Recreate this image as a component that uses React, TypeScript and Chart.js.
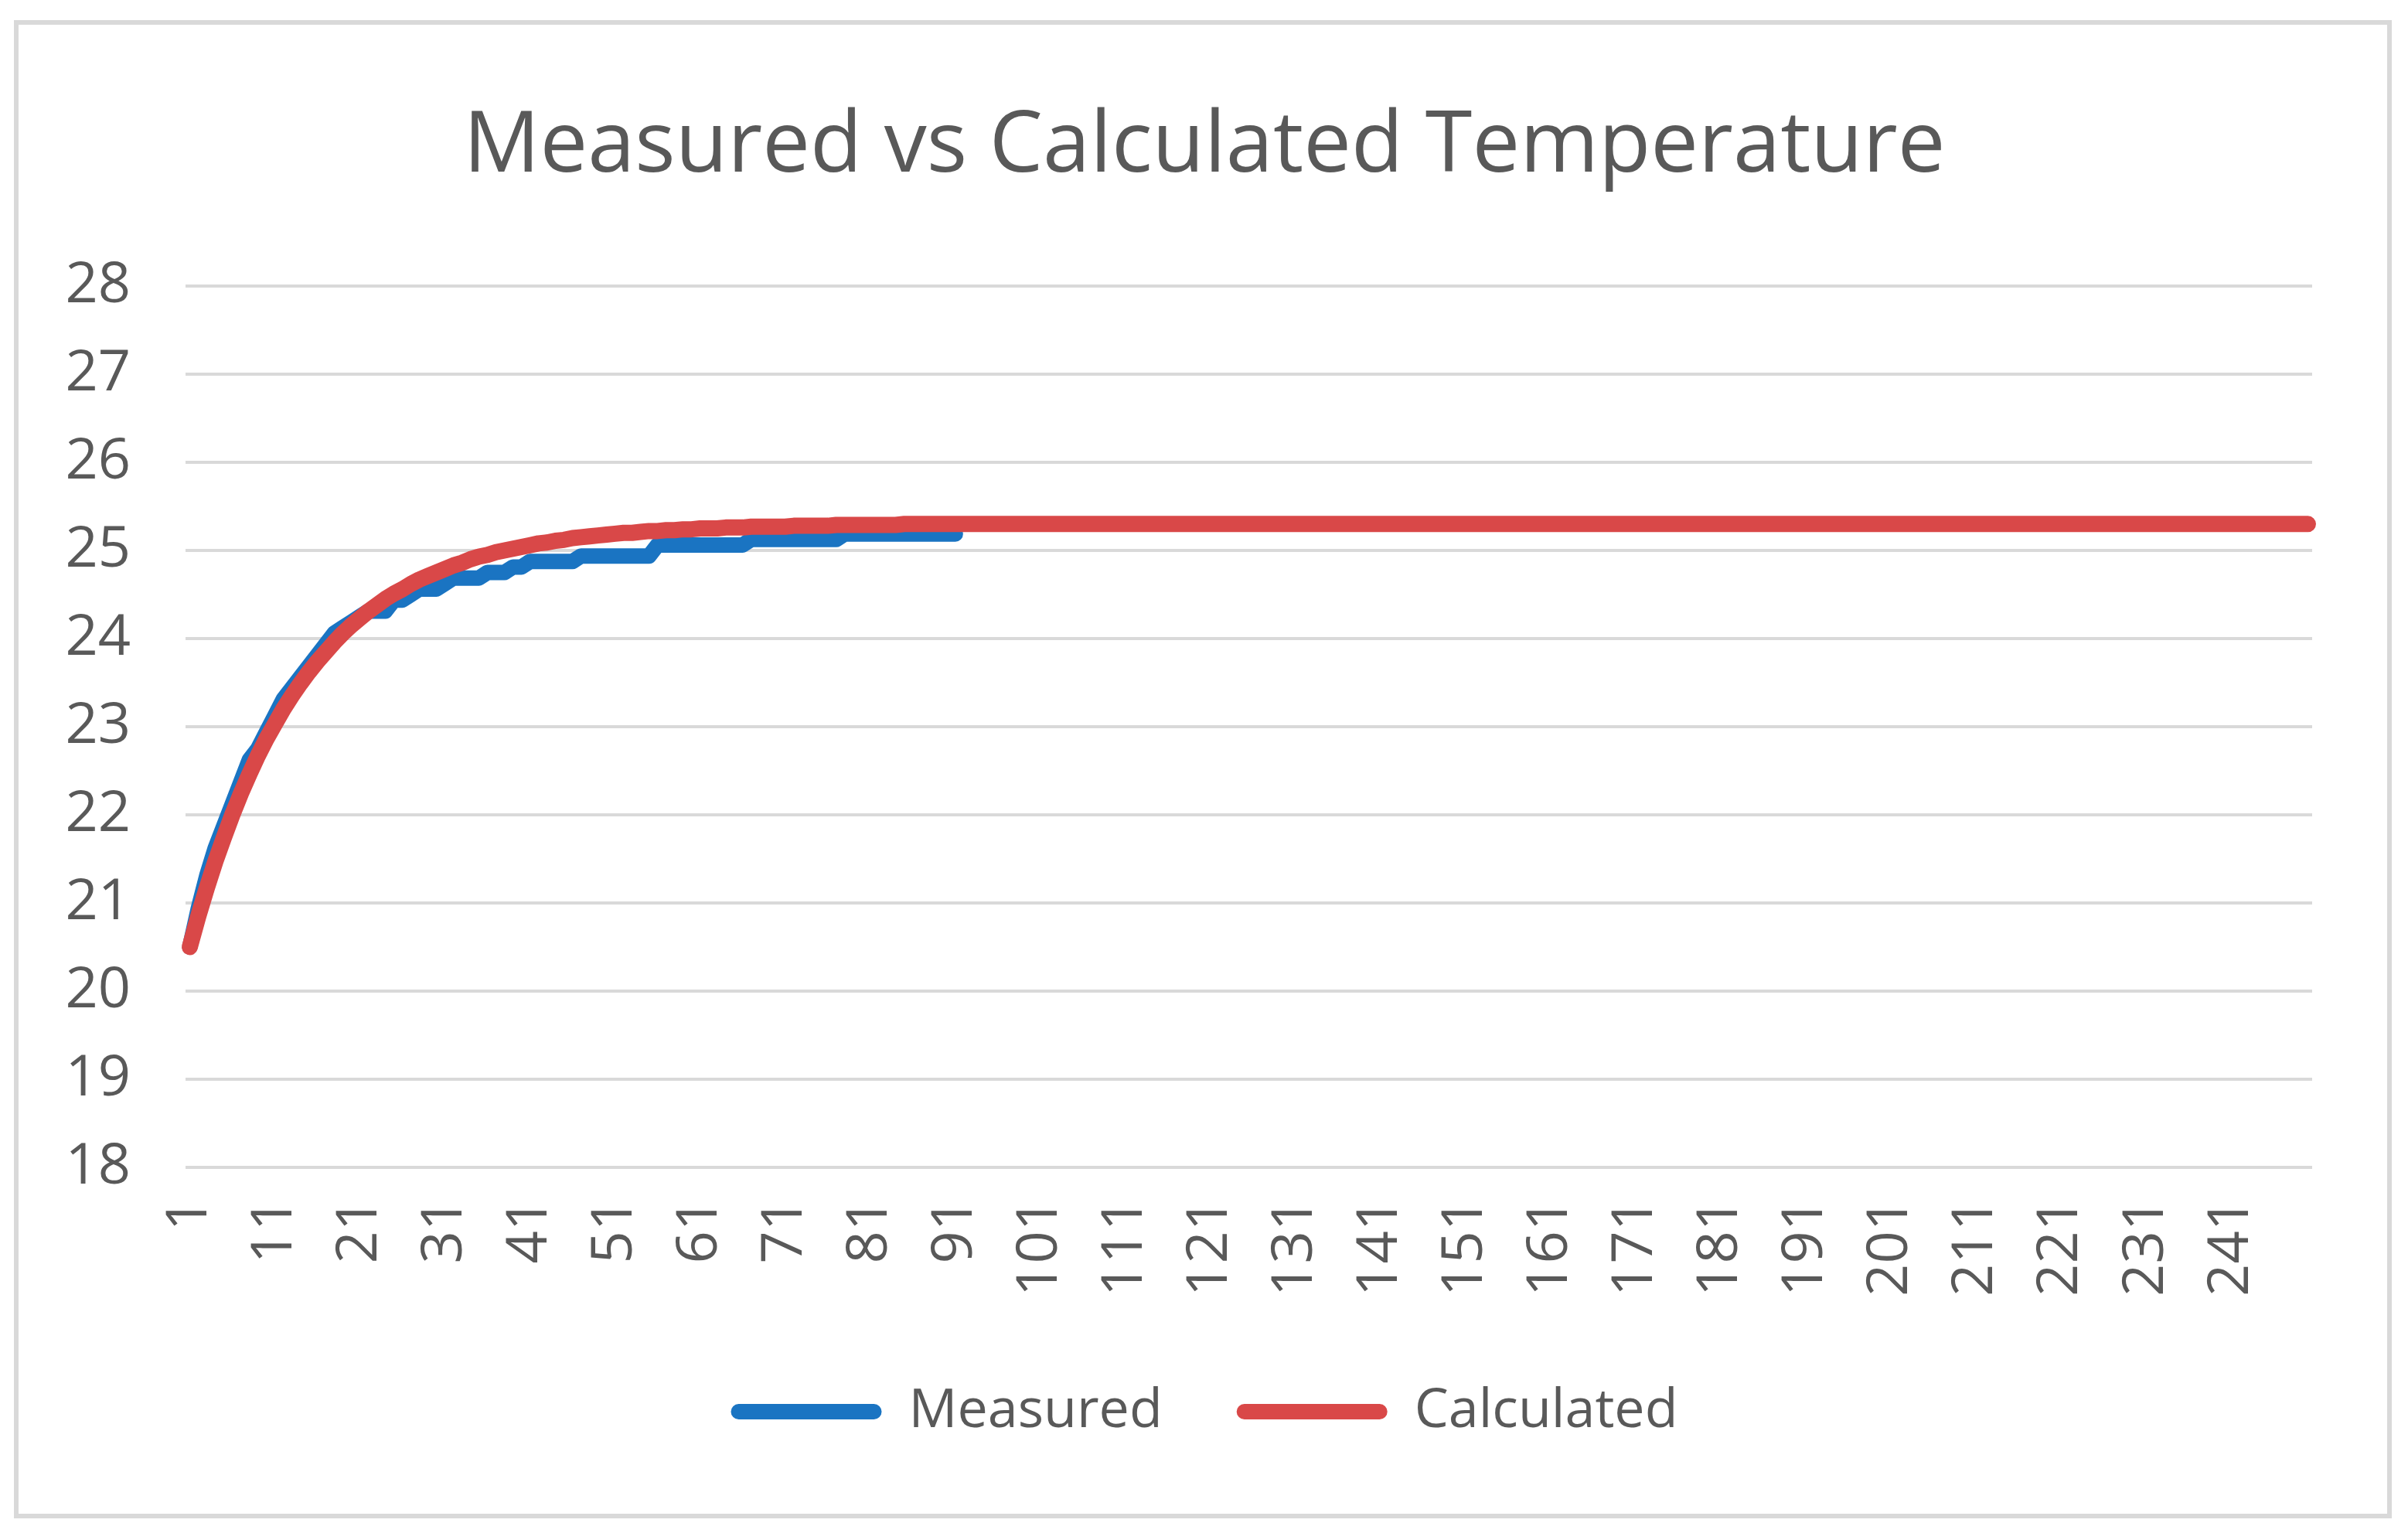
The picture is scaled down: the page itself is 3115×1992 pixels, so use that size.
import React, { useEffect, useRef } from "react";
import { Chart, registerables } from "chart.js";

Chart.register(...registerables);

const titleText = "Measured vs Calculated Temperature";
const seriesNames = ["Measured", "Calculated"];
const seriesColors = ["#1a74c2", "#d94848"];

const categories = Array.from({ length: 250 }, (_, i) => String(i + 1));
const tickLabels = [
  "1", "11", "21", "31", "41", "51", "61", "71", "81", "91", "101", "111", "121",
  "131", "141", "151", "161", "171", "181", "191", "201", "211", "221", "231", "241",
];
const yTicks = [18, 19, 20, 21, 22, 23, 24, 25, 26, 27, 28];

const measured = [
  20.5, 20.9375, 21.3125, 21.625, 21.875, 22.125, 22.375, 22.625, 22.75, 22.9375,
  23.125, 23.3125, 23.4375, 23.5625, 23.6875, 23.8125, 23.9375, 24.0625, 24.125, 24.1875,
  24.25, 24.3125, 24.3125, 24.3125, 24.4375, 24.4375, 24.5, 24.5625, 24.5625, 24.5625,
  24.625, 24.6875, 24.6875, 24.6875, 24.6875, 24.75, 24.75, 24.75, 24.8125, 24.8125,
  24.875, 24.875, 24.875, 24.875, 24.875, 24.875, 24.9375, 24.9375, 24.9375, 24.9375,
  24.9375, 24.9375, 24.9375, 24.9375, 24.9375, 25.0625, 25.0625, 25.0625, 25.0625, 25.0625,
  25.0625, 25.0625, 25.0625, 25.0625, 25.0625, 25.0625, 25.125, 25.125, 25.125, 25.125,
  25.125, 25.125, 25.125, 25.125, 25.125, 25.125, 25.125, 25.1875, 25.1875, 25.1875,
  25.1875, 25.1875, 25.1875, 25.1875, 25.1875, 25.1875, 25.1875, 25.1875, 25.1875, 25.1875,
  25.1875,
];

const calculated = [
  20.5, 20.85, 21.17, 21.47, 21.74, 22.0, 22.24, 22.46, 22.67, 22.86,
  23.03, 23.2, 23.35, 23.49, 23.62, 23.74, 23.85, 23.96, 24.06, 24.15,
  24.23, 24.31, 24.38, 24.45, 24.51, 24.56, 24.62, 24.67, 24.71, 24.75,
  24.79, 24.83, 24.86, 24.9, 24.93, 24.95, 24.98, 25.0, 25.02, 25.04,
  25.06, 25.08, 25.09, 25.11, 25.12, 25.14, 25.15, 25.16, 25.17, 25.18,
  25.19, 25.2, 25.2, 25.21, 25.22, 25.22, 25.23, 25.23, 25.24, 25.24,
  25.25, 25.25, 25.25, 25.26, 25.26, 25.26, 25.27, 25.27, 25.27, 25.27,
  25.27, 25.28, 25.28, 25.28, 25.28, 25.28, 25.29, 25.29, 25.29, 25.29,
  25.29, 25.29, 25.29, 25.29, 25.3, 25.3, 25.3, 25.3, 25.3, 25.3,
  25.3, 25.3, 25.3, 25.3, 25.3, 25.3, 25.3, 25.3, 25.3, 25.3,
  25.3, 25.3, 25.3, 25.3, 25.3, 25.3, 25.3, 25.3, 25.3, 25.3,
  25.3, 25.3, 25.3, 25.3, 25.3, 25.3, 25.3, 25.3, 25.3, 25.3,
  25.3, 25.3, 25.3, 25.3, 25.3, 25.3, 25.3, 25.3, 25.3, 25.3,
  25.3, 25.3, 25.3, 25.3, 25.3, 25.3, 25.3, 25.3, 25.3, 25.3,
  25.3, 25.3, 25.3, 25.3, 25.3, 25.3, 25.3, 25.3, 25.3, 25.3,
  25.3, 25.3, 25.3, 25.3, 25.3, 25.3, 25.3, 25.3, 25.3, 25.3,
  25.3, 25.3, 25.3, 25.3, 25.3, 25.3, 25.3, 25.3, 25.3, 25.3,
  25.3, 25.3, 25.3, 25.3, 25.3, 25.3, 25.3, 25.3, 25.3, 25.3,
  25.3, 25.3, 25.3, 25.3, 25.3, 25.3, 25.3, 25.3, 25.3, 25.3,
  25.3, 25.3, 25.3, 25.3, 25.3, 25.3, 25.3, 25.3, 25.3, 25.3,
  25.3, 25.3, 25.3, 25.3, 25.3, 25.3, 25.3, 25.3, 25.3, 25.3,
  25.3, 25.3, 25.3, 25.3, 25.3, 25.3, 25.3, 25.3, 25.3, 25.3,
  25.3, 25.3, 25.3, 25.3, 25.3, 25.3, 25.3, 25.3, 25.3, 25.3,
  25.3, 25.3, 25.3, 25.3, 25.3, 25.3, 25.3, 25.3, 25.3, 25.3,
  25.3, 25.3, 25.3, 25.3, 25.3, 25.3, 25.3, 25.3, 25.3, 25.3,
];

const W = 3115;
const H = 1992;
const TEXT = "#595959";
const GRID = "#d9d9d9";
const FONT = "'Open Sans', 'Noto Sans', sans-serif";

export default function App() {
  const ref = useRef<HTMLCanvasElement | null>(null);

  useEffect(() => {
    if (!ref.current) return;
    const chart = new Chart(ref.current, {
      type: "line",
      data: {
        labels: categories,
        datasets: [
          {
            label: seriesNames[0],
            data: measured,
            borderColor: seriesColors[0],
            backgroundColor: seriesColors[0],
            borderWidth: 20,
            pointRadius: 0,
            tension: 0,
            borderCapStyle: "round",
            borderJoinStyle: "round",
            order: 1,
          },
          {
            label: seriesNames[1],
            data: calculated,
            borderColor: seriesColors[1],
            backgroundColor: seriesColors[1],
            borderWidth: 21,
            pointRadius: 0,
            tension: 0,
            borderCapStyle: "round",
            borderJoinStyle: "round",
            order: 0,
          },
        ],
      },
      options: {
        responsive: false,
        animation: false,
        devicePixelRatio: 1,
        layout: { padding: { left: 30, right: 29, top: 0, bottom: 121 } },
        plugins: {
          tooltip: { enabled: false },
          title: {
            display: true,
            text: titleText,
            color: TEXT,
            font: { family: FONT, size: 110, weight: "normal", lineHeight: 1.2 },
            padding: { top: 125, bottom: 113 },
          },
          legend: {
            display: true,
            position: "bottom",
            labels: {
              color: TEXT,
              font: { family: FONT, size: 70 },
              boxWidth: 195,
              boxHeight: 20,
              padding: 96,
              useBorderRadius: true,
              borderRadius: 10,
              generateLabels: (c: any) =>
                c.data.datasets.map((ds: any, i: number) => ({
                  text: ds.label,
                  fillStyle: ds.borderColor,
                  strokeStyle: ds.borderColor,
                  lineWidth: 0,
                  hidden: false,
                  datasetIndex: i,
                  borderRadius: 10,
                  fontColor: TEXT,
                })),
            },
          },
        },
        scales: {
          x: {
            type: "category",
            offset: true,
            grid: { display: false },
            border: { display: false },
            afterFit: (s: any) => {
              s.height = 185;
            },
            ticks: {
              autoSkip: false,
              minRotation: 90,
              maxRotation: 90,
              padding: 32,
              color: TEXT,
              font: { family: FONT, size: 74 },
              callback: (_v: any, i: number) => {
                const l = categories[i];
                return tickLabels.includes(l) ? l : null;
              },
            },
          },
          y: {
            min: yTicks[0],
            max: yTicks[yTicks.length - 1],
            afterFit: (s: any) => {
              s.width = 210;
            },
            afterBuildTicks: (s: any) => {
              s.ticks = yTicks.map((v) => ({ value: v }));
            },
            grid: { color: GRID, lineWidth: 4, drawTicks: false },
            border: { display: false },
            ticks: {
              padding: 71,
              color: TEXT,
              font: { family: FONT, size: 74 },
            },
          },
          yRight: {
            type: "linear",
            position: "right",
            display: true,
            min: yTicks[0],
            max: yTicks[yTicks.length - 1],
            grid: { display: false, drawTicks: false },
            border: { display: false },
            ticks: { display: false },
            afterFit: (s: any) => {
              s.width = 95;
            },
          },
        },
      },
    });
    return () => chart.destroy();
  }, []);

  return (
    <div style={{ position: "absolute", left: 0, top: 0, width: W, height: H, background: "#fff" }}>
      <canvas ref={ref} width={W} height={H} style={{ width: W, height: H, display: "block" }} />
      <div
        style={{
          position: "absolute",
          left: 18,
          top: 26,
          width: 3076,
          height: 1938,
          boxSizing: "border-box",
          border: "6px solid #d9d9d9",
          pointerEvents: "none",
        }}
      />
    </div>
  );
}
